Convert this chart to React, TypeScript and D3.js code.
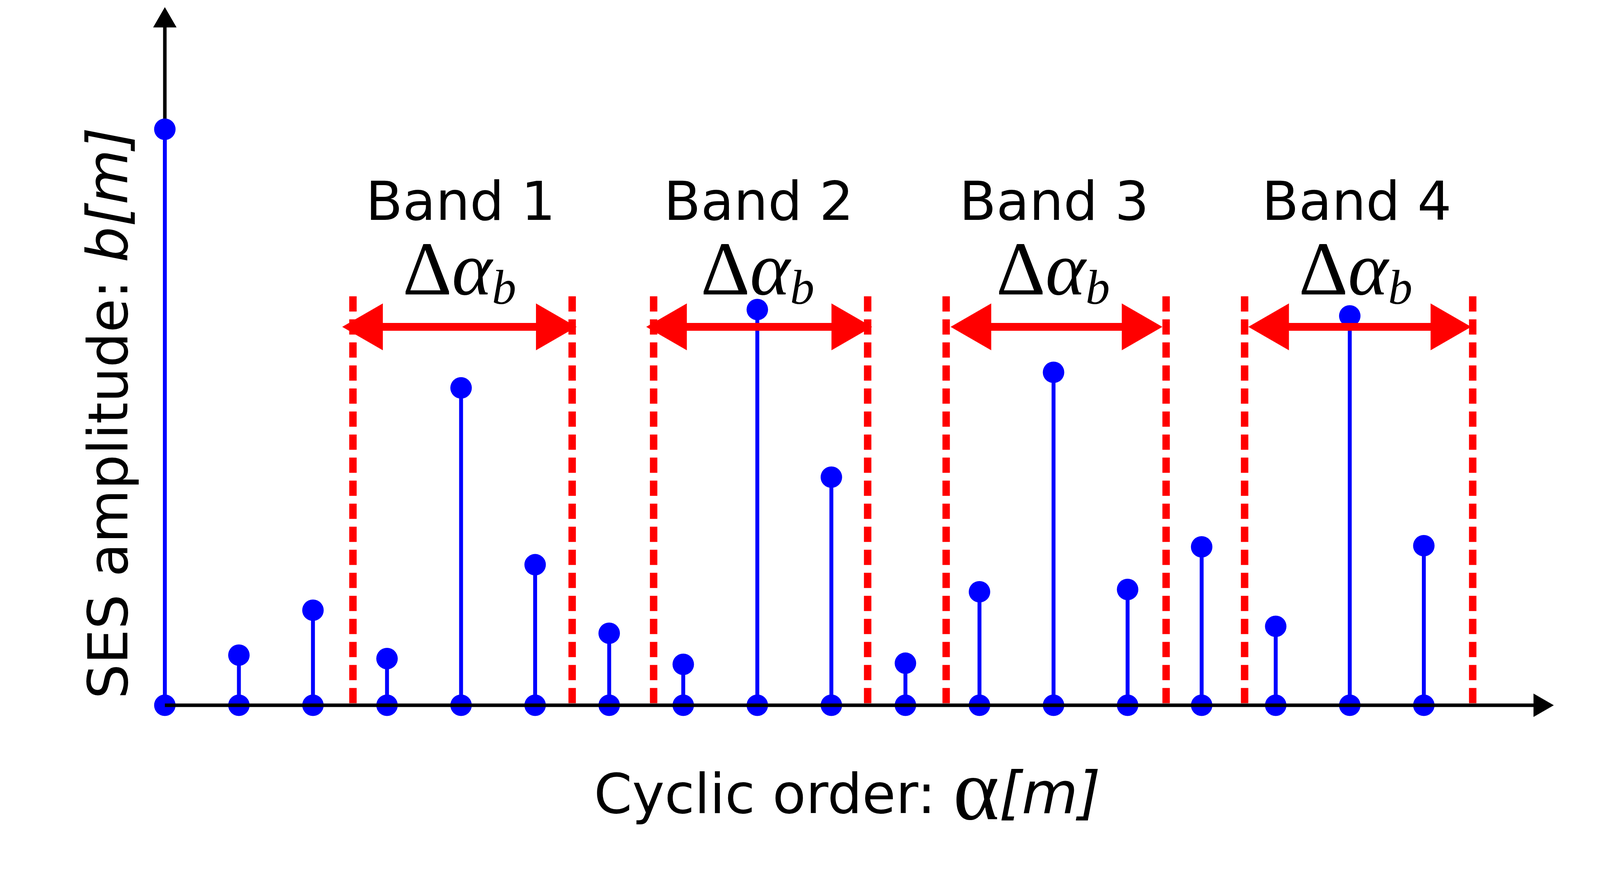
import React, { useEffect } from 'react';
import * as d3 from 'd3';

const W = 4224;
const H = 2233;

// cyclic order index m and SES amplitude b[m] (normalised to the first line)
const orders = [0, 1, 2, 3, 4, 5, 6, 7, 8, 9, 10, 11, 12, 13, 14, 15, 16, 17];
const amplitudes = [1.0, 0.087, 0.165, 0.081, 0.551, 0.244, 0.125, 0.071, 0.687, 0.396, 0.073, 0.197, 0.578, 0.201, 0.275, 0.137, 0.676, 0.277];

// bands (in m units): dashed edges and arrow tips
const bandNames = ['Band 1', 'Band 2', 'Band 3', 'Band 4'];
const bandStart = [2.54, 6.6, 10.55, 14.58];
const bandEnd = [5.5, 9.49, 13.52, 17.66];
const arrowFrom = [2.395, 6.5, 10.61, 14.63];
const arrowTo = [5.56, 9.55, 13.47, 17.64];

const BLUE = '#0000ff';
const RED = '#ff0000';
const SANS = '"DejaVu Sans", Verdana, sans-serif';
const SERIF = '"Liberation Serif", "Times New Roman", serif';

const arrowPath = (x0: number, x1: number, yc: number) => {
  const hl = 104, hh = 60, sh = 10;
  const p = d3.path();
  p.moveTo(x0, yc);
  p.lineTo(x0 + hl, yc - hh);
  p.lineTo(x0 + hl, yc - sh);
  p.lineTo(x1 - hl, yc - sh);
  p.lineTo(x1 - hl, yc - hh);
  p.lineTo(x1, yc);
  p.lineTo(x1 - hl, yc + hh);
  p.lineTo(x1 - hl, yc + sh);
  p.lineTo(x0 + hl, yc + sh);
  p.lineTo(x0 + hl, yc + hh);
  p.closePath();
  return p.toString();
};

const App: React.FC = () => {
  useEffect(() => {
    document.body.style.margin = '0';
  }, []);

  const x = d3.scaleLinear().domain([0, 17]).range([422, 3645]);
  const y = d3.scaleLinear().domain([0, 1]).range([1806, 331]);

  const x0 = x(0);
  const y0 = y(0);
  const xEnd = x(18.755);
  const yTop = y(1.212);
  const dashTop = y(0.71);
  const arrowY = y(0.657);

  return (
    <svg width={W} height={H} viewBox={`0 0 ${W} ${H}`} style={{ display: 'block', background: '#fff' }}>
      {/* y axis */}
      <line x1={x0} x2={x0} y1={y0} y2={yTop + 50} stroke="#000" strokeWidth={9} />
      <path d={`M${x0},${yTop} L${x0 - 30},${yTop + 52} L${x0 + 30},${yTop + 52} Z`} fill="#000" />

      {/* band edges */}
      {bandStart.map((s, i) => (
        <g key={'edge' + i}>
          {[s, bandEnd[i]].map((e, j) => (
            <line key={j} x1={x(e)} x2={x(e)} y1={dashTop} y2={y0} stroke={RED} strokeWidth={19} strokeDasharray="39,20" />
          ))}
        </g>
      ))}

      {/* stems */}
      {orders.map((m, i) => (
        <line key={'s' + m} x1={x(m)} x2={x(m)} y1={y0} y2={y(amplitudes[i])} stroke={BLUE} strokeWidth={10} />
      ))}
      {orders.map((m, i) => (
        <circle key={'t' + m} cx={x(m)} cy={y(amplitudes[i])} r={27.5} fill={BLUE} />
      ))}
      {orders.map((m) => (
        <circle key={'b' + m} cx={x(m)} cy={y0} r={27.5} fill={BLUE} />
      ))}

      {/* x axis */}
      <line x1={x0} x2={xEnd - 50} y1={y0} y2={y0} stroke="#000" strokeWidth={9} />
      <path d={`M${xEnd},${y0} L${xEnd - 52},${y0 - 30} L${xEnd - 52},${y0 + 30} Z`} fill="#000" />

      {/* band arrows and labels */}
      {bandNames.map((name, i) => {
        const cx = (x(bandStart[i]) + x(bandEnd[i])) / 2;
        return (
          <g key={name}>
            <path d={arrowPath(x(arrowFrom[i]), x(arrowTo[i]), arrowY)} fill={RED} />
            <text x={cx - 5} y={arrowY - 274} textAnchor="middle" fontFamily={SANS} fontSize={138} fill="#000">
              {name}
            </text>
            <text x={cx - 8} y={arrowY - 83} textAnchor="middle" fill="#000" fontFamily={SERIF}>
              <tspan fontSize={196}>Δ</tspan>
              <tspan fontSize={196} fontStyle="italic">α</tspan>
              <tspan fontSize={124} fontStyle="italic" dy={24}>b</tspan>
            </text>
          </g>
        );
      })}

      {/* axis titles */}
      <text x={2169} y={2082} textAnchor="middle" fontFamily={SANS} fontSize={140} fill="#000">
        {'Cyclic order: '}
        <tspan fontFamily={SERIF} fontSize={225} dy={16}>α</tspan>
        <tspan fontStyle="italic" fontSize={148} dy={-16}>[m]</tspan>
      </text>
      <text transform="translate(326,1058) rotate(-90)" textAnchor="middle" fontFamily={SANS} fontSize={141} fill="#000">
        {'SES amplitude: '}
        <tspan fontStyle="italic" fontSize={145}>b[m]</tspan>
      </text>
    </svg>
  );
};

export default App;
